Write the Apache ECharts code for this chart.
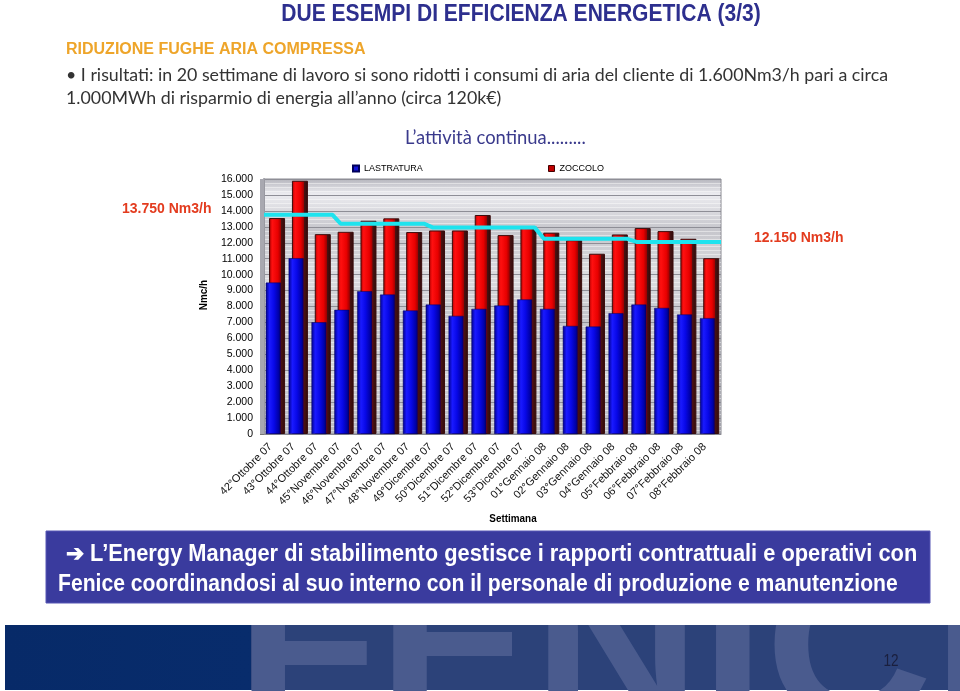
<!DOCTYPE html>
<html>
<head>
<meta charset="utf-8">
<script src="https://cdn.jsdelivr.net/npm/echarts@6/dist/echarts.min.js"></script>
<style>
html,body{margin:0;padding:0;background:#fff;}
#c{width:960px;height:691px;}
</style>
</head>
<body>
<div id="c"></div>
<script>
// ---- data ----
const categories = ['42°Ottobre 07','43°Ottobre 07','44°Ottobre 07','45°Novembre 07','46°Novembre 07','47°Novembre 07','48°Novembre 07','49°Dicembre 07','50°Dicembre 07','51°Dicembre 07','52°Dicembre 07','53°Dicembre 07','01°Gennaio 08','02°Gennaio 08','03°Gennaio 08','04°Gennaio 08','05°Febbraio 08','06°Febbraio 08','07°Febbraio 08','08°Febbraio 08'];
const lastratura = [9500, 11030, 7010, 7790, 8960, 8750, 7750, 8120, 7410, 7850, 8060, 8440, 7850, 6780, 6740, 7580, 8120, 7910, 7500, 7270];
const zoccolo = [13550, 15890, 12540, 12690, 13380, 13530, 12670, 12770, 12770, 13740, 12480, 13040, 12630, 12160, 11310, 12520, 12920, 12730, 12250, 11030];
// consumption trend line (x in week units from the left edge of the plot)
const trendX = [0, 3, 3.35, 7, 7.4, 11.85, 12.25, 15.9, 16.3, 20];
const trendY = [13750, 13750, 13200, 13200, 12950, 12950, 12250, 12250, 12050, 12050];
const yTicks = {min: 0, max: 16000, interval: 1000};

const ARIAL = "'Liberation Sans',Arial,sans-serif";
const HUMAN = "'Lato','Open Sans',sans-serif";

const chart = echarts.init(document.getElementById('c'), null, {renderer: 'canvas'});

const blueGrad = {type:'linear', x:0, y:0, x2:1, y2:0, colorStops:[
  {offset:0, color:'#00008c'}, {offset:0.25, color:'#1a1aff'}, {offset:0.55, color:'#0808e8'},
  {offset:0.85, color:'#0000a8'}, {offset:1, color:'#000060'}]};
const redGrad = {type:'linear', x:0, y:0, x2:1, y2:0, colorStops:[
  {offset:0, color:'#b00000'}, {offset:0.2, color:'#ff1010'}, {offset:0.55, color:'#e80000'},
  {offset:0.74, color:'#a00000'}, {offset:0.76, color:'#4a1212'}, {offset:1, color:'#2e0a0a'}]};
const panelGrad = {type:'linear', x:0, y:0, x2:0, y2:1, colorStops:[
  {offset:0, color:'#b4b4bc'}, {offset:0.06, color:'#ececf0'}, {offset:0.2, color:'#c6c6cc'},
  {offset:0.38, color:'#dcdce0'}, {offset:0.55, color:'#c4c4ca'}, {offset:0.75, color:'#d6d6da'},
  {offset:1, color:'#babac2'}]};

const legendText = {fontFamily: ARIAL, fontSize: 9, color: '#000'};

const option = {
  animation: false,
  legend: [
    {left: 352, top: 164, padding: 0, icon: 'rect', itemWidth: 6, itemHeight: 6, itemGap: 4,
     textStyle: legendText, data: [{name: 'LASTRATURA', itemStyle: {color: '#1515d8'}}]},
    {left: 548, top: 164, padding: 0, icon: 'rect', itemWidth: 6, itemHeight: 6, itemGap: 4,
     textStyle: legendText, data: [{name: 'ZOCCOLO', itemStyle: {color: '#c00000', borderColor: '#400', borderWidth: 1}}]}
  ],
  grid: {left: 264, right: 239, top: 179, bottom: 257, show: true,
    backgroundColor: panelGrad, borderColor: '#8a8a92', borderWidth: 1},
  xAxis: [
    {type: 'category', data: categories, boundaryGap: true,
     axisLine: {show: true, lineStyle: {color: '#8a8a92'}},
     axisTick: {show: false},
     axisLabel: {interval: 0, rotate: 45, margin: 6, padding: [0, 7, 0, 0], fontFamily: ARIAL, fontSize: 11, color: '#111'}},
    {type: 'value', min: 0, max: 20, show: false}
  ],
  yAxis: {type: 'value', min: yTicks.min, max: yTicks.max, interval: yTicks.interval, offset: 4,
    axisLine: {show: true, lineStyle: {color: '#9a9aa2', width: 2}},
    axisTick: {show: true, length: 4, lineStyle: {color: '#777'}},
    axisLabel: {margin: 7, fontFamily: ARIAL, fontSize: 10.5, color: '#000',
      formatter: v => v === 0 ? '0' : (v / 1000).toFixed(3)},
    splitLine: {show: true, lineStyle: {color: '#8e8e96', width: 1}},
    minorTick: {show: false, splitNumber: 4},
    minorSplitLine: {show: true, lineStyle: {color: 'rgba(255,255,255,0.45)', width: 1}}
  },
  series: [
    {name: 'LASTRATURA', type: 'bar', data: lastratura, xAxisIndex: 0, barWidth: 15, barGap: '-78%', z: 4,
     itemStyle: {color: blueGrad, borderColor: '#00005a', borderWidth: 0.5}},
    {name: 'ZOCCOLO', type: 'bar', data: zoccolo, xAxisIndex: 0, barWidth: 16, z: 3,
     itemStyle: {color: redGrad, borderColor: '#3a0c0c', borderWidth: 1}},
    {name: 'trend', type: 'line', xAxisIndex: 1, data: trendX.map((x, i) => [x, trendY[i]]),
     symbol: 'none', z: 6, lineStyle: {color: '#1ee3ee', width: 4}}
  ],
  graphic: [
    // left wall of the 3D panel
    {type: 'rect', shape: {x: 260, y: 179, width: 4, height: 255}, style: {fill: '#a8a8b0'}, z: 1},
    // slide texts
    {type: 'text', x: 521, y: 14, scaleX: 0.877, style: {text: 'DUE ESEMPI DI EFFICIENZA ENERGETICA (3/3)', fill: '#2d2f8e',
      font: "bold 24px " + ARIAL, textAlign: 'center', textVerticalAlign: 'middle'}},
    {type: 'text', x: 66, y: 50, style: {text: 'RIDUZIONE FUGHE ARIA COMPRESSA', fill: '#eea52a',
      font: "bold 16px " + ARIAL, textVerticalAlign: 'middle'}},
    {type: 'text', x: 66, y: 75, style: {text: '• I risultati: in 20 settimane di lavoro si sono ridotti i consumi di aria del cliente di 1.600Nm3/h pari a circa', fill: '#333',
      font: "17.8px " + HUMAN, textVerticalAlign: 'middle'}},
    {type: 'text', x: 66, y: 98, style: {text: '1.000MWh di risparmio di energia all’anno (circa 120k€)', fill: '#333',
      font: "17.8px " + HUMAN, textVerticalAlign: 'middle'}},
    {type: 'text', x: 405, y: 138, style: {text: 'L’attività continua.........', fill: '#3a3a8c',
      font: "18.4px " + HUMAN, textVerticalAlign: 'middle'}},
    {type: 'text', x: 122, y: 209, style: {text: '13.750 Nm3/h', fill: '#e33b1e',
      font: "bold 14px " + ARIAL, textVerticalAlign: 'middle'}},
    {type: 'text', x: 754, y: 238, style: {text: '12.150 Nm3/h', fill: '#e33b1e',
      font: "bold 14px " + ARIAL, textVerticalAlign: 'middle'}},
    {type: 'text', x: 204, y: 295, rotation: Math.PI / 2, scaleX: 0.9, style: {text: 'Nmc/h', fill: '#000',
      font: "bold 11px " + ARIAL, textAlign: 'center', textVerticalAlign: 'middle'}},
    {type: 'text', x: 513, y: 519, scaleX: 0.9, style: {text: 'Settimana', fill: '#000',
      font: "bold 11px " + ARIAL, textAlign: 'center', textVerticalAlign: 'middle'}},
    // footer band
    {type: 'rect', shape: {x: 5, y: 625, width: 955, height: 65}, style: {fill: '#2c4279'}, z: 1},
    {type: 'rect', shape: {x: 5, y: 625, width: 246, height: 65}, style: {fill: {type:'linear', x:0, y:0, x2:1, y2:0,
      colorStops:[{offset:0, color:'#072a68'}, {offset:1, color:'#082c6c'}]}}, z: 2},
    {type: 'text', x: 236, y: 660, z: 3, scaleX: 1.08, style: {text: 'FENICE', fill: '#4a5b8e',
      font: "bold 215px " + ARIAL, textVerticalAlign: 'middle'}},
    {type: 'rect', shape: {x: 0, y: 530, width: 960, height: 95}, style: {fill: '#fff'}, z: 4},
    {type: 'text', x: 891, y: 662, z: 5, scaleX: 0.85, style: {text: '12', fill: '#1a1f3e',
      font: "16px " + ARIAL, textAlign: 'center', textVerticalAlign: 'middle'}},
    // blue message box
    {type: 'rect', shape: {x: 46, y: 531, width: 884, height: 72}, style: {fill: '#3a3b9e', stroke: '#5656b4', lineWidth: 1}, z: 6},
    {type: 'text', x: 66, y: 555, z: 7, scaleX: 0.949, style: {text: '➔ L’Energy Manager di stabilimento gestisce i rapporti contrattuali e operativi con', fill: '#fff',
      font: "bold 23px " + ARIAL, textVerticalAlign: 'middle'}},
    {type: 'text', x: 58, y: 585, z: 7, scaleX: 0.919, style: {text: 'Fenice coordinandosi al suo interno con il personale di produzione e manutenzione', fill: '#fff',
      font: "bold 23px " + ARIAL, textVerticalAlign: 'middle'}}
  ]
};
chart.setOption(option);
</script>
</body>
</html>
